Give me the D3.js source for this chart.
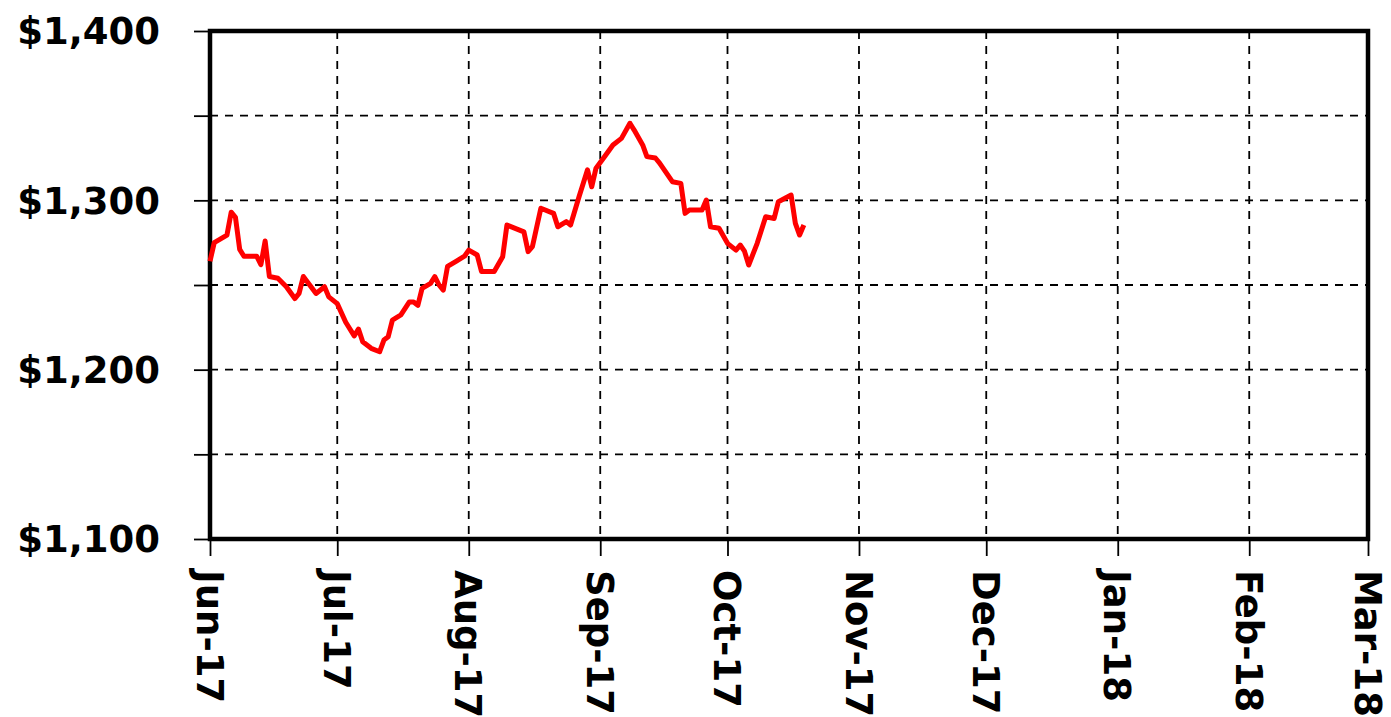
<!DOCTYPE html>
<html>
<head>
<meta charset="utf-8">
<script src="https://cdn.jsdelivr.net/npm/d3@7"></script>
<style>
  body { margin: 0; background: #fff; }
  svg { display: block; }
  .lbl { font-family: "DejaVu Sans", sans-serif; font-weight: bold; font-size: 37px; fill: #000; }
</style>
</head>
<body>
<div class="chart"></div>
<script>
// gold price
var dates = ["2017-06-01","2017-06-02","2017-06-05","2017-06-06","2017-06-07","2017-06-08","2017-06-09",
  "2017-06-12","2017-06-13","2017-06-14","2017-06-15","2017-06-17","2017-06-19","2017-06-21","2017-06-22",
  "2017-06-23","2017-06-26","2017-06-28","2017-06-29","2017-07-01","2017-07-03","2017-07-05","2017-07-06",
  "2017-07-07","2017-07-09","2017-07-11","2017-07-12","2017-07-13","2017-07-14","2017-07-16","2017-07-18",
  "2017-07-19","2017-07-20","2017-07-21","2017-07-23","2017-07-24","2017-07-25","2017-07-26","2017-07-27",
  "2017-07-29","2017-07-31","2017-08-01","2017-08-03","2017-08-04","2017-08-07","2017-08-09","2017-08-10",
  "2017-08-14","2017-08-15","2017-08-16","2017-08-18","2017-08-21","2017-08-22","2017-08-24","2017-08-25",
  "2017-08-27","2017-08-29","2017-08-30","2017-08-31","2017-09-02","2017-09-04","2017-09-06","2017-09-08",
  "2017-09-09","2017-09-11","2017-09-12","2017-09-14","2017-09-15","2017-09-18","2017-09-20","2017-09-21",
  "2017-09-22","2017-09-25","2017-09-26","2017-09-27","2017-09-29","2017-10-01","2017-10-03","2017-10-04",
  "2017-10-05","2017-10-06","2017-10-08","2017-10-10","2017-10-12","2017-10-13","2017-10-16","2017-10-17",
  "2017-10-18","2017-10-19"];
var prices = [1264,1275,1279.5,1293,1290,1271,1267,
  1267,1262,1276,1255,1254,1249,1242,1245,
  1255,1245,1249,1243,1239,1228,1220,1224,
  1216.5,1212.6,1210.6,1217.5,1219.4,1229.3,1232.3,1240,
  1240,1238,1248,1251,1255,1250,1247,1261,
  1264,1267,1270.6,1267.7,1258,1258,1266.7,1285.4,
  1281.4,1269.7,1272.6,1295.3,1292.3,1284.4,1287.4,1285.4,
  1302.1,1318,1308,1319,1325.8,1332.7,1336.6,1345.5,
  1341.5,1332.7,1325.8,1325,1322,1311,1310,1292.3,
  1294.3,1294.3,1300.2,1284.4,1283.5,1274.6,1270.6,1273.6,
  1270,1261.8,1274.6,1290.3,1289.3,1299.2,1303.1,1286.4,
  1279.5,1285.4];
var yTicks = [1100, 1200, 1300, 1400];
var yGrid = [1150, 1200, 1250, 1300, 1350];
var monthTicks = ["2017-06-01","2017-07-01","2017-08-01","2017-09-01","2017-10-01",
  "2017-11-01","2017-12-01","2018-01-01","2018-02-01","2018-03-01"];

var parse = d3.timeParse("%Y-%m-%d");
var fmt = d3.timeFormat("%b-%y");
var data = dates.map(function(d, i) { return {date: parse(d), value: prices[i]}; });
var months = monthTicks.map(parse);

var W = 1391, H = 717;
var L = 210, R = 1368, T = 31, B = 539;

var svg = d3.select(".chart").append("svg").attr("width", W).attr("height", H);

var x = d3.scaleTime().domain([months[0], months[months.length - 1]]).range([L, R]);
var y = d3.scaleLinear().domain([1100, 1400]).range([B, T]);

// grid
svg.append("g").selectAll("line").data(yGrid).enter().append("line")
    .attr("x1", L).attr("x2", R)
    .attr("y1", function(d) { return y(d); }).attr("y2", function(d) { return y(d); })
    .attr("stroke", "#000").attr("stroke-width", 1.8).attr("stroke-dasharray", "8,7");
svg.append("g").selectAll("line").data(months.slice(1, -1)).enter().append("line")
    .attr("y1", T).attr("y2", B)
    .attr("x1", function(d) { return x(d); }).attr("x2", function(d) { return x(d); })
    .attr("stroke", "#000").attr("stroke-width", 1.8).attr("stroke-dasharray", "8,7");

// axes
var yAxis = d3.axisLeft(y).tickValues(d3.range(1100, 1401, 50)).tickSize(16).tickFormat("");
svg.append("g").attr("transform", "translate(" + L + ",0)").call(yAxis)
    .call(function(g) { g.select(".domain").remove(); g.selectAll("line").attr("stroke-width", 1.8); });
var xAxis = d3.axisBottom(x).tickValues(months).tickSize(17).tickFormat("");
svg.append("g").attr("transform", "translate(0," + B + ")").call(xAxis)
    .call(function(g) { g.select(".domain").remove(); g.selectAll("line").attr("stroke-width", 1.8); });

svg.append("g").selectAll("text").data(yTicks).enter().append("text")
    .attr("class", "lbl")
    .attr("x", 160).attr("y", function(d) { return y(d); })
    .attr("dy", "0.36em").attr("text-anchor", "end")
    .text(function(d) { return "$" + d3.format(",")(d); });

svg.append("g").selectAll("text").data(months).enter().append("text")
    .attr("class", "lbl")
    .attr("transform", function(d) { return "translate(" + x(d) + ",570) rotate(90)"; })
    .attr("dy", "0.36em")
    .text(function(d) { return fmt(d); });

// plot border
svg.append("rect").attr("x", L).attr("y", T).attr("width", R - L).attr("height", B - T)
    .attr("fill", "none").attr("stroke", "#000").attr("stroke-width", 4.5);

// price line
var line = d3.line().x(function(d) { return x(d.date); }).y(function(d) { return y(d.value); });
svg.append("path").datum(data).attr("d", line)
    .attr("fill", "none").attr("stroke", "#ff0000").attr("stroke-width", 5)
    .attr("stroke-linejoin", "round");
</script>
</body>
</html>
